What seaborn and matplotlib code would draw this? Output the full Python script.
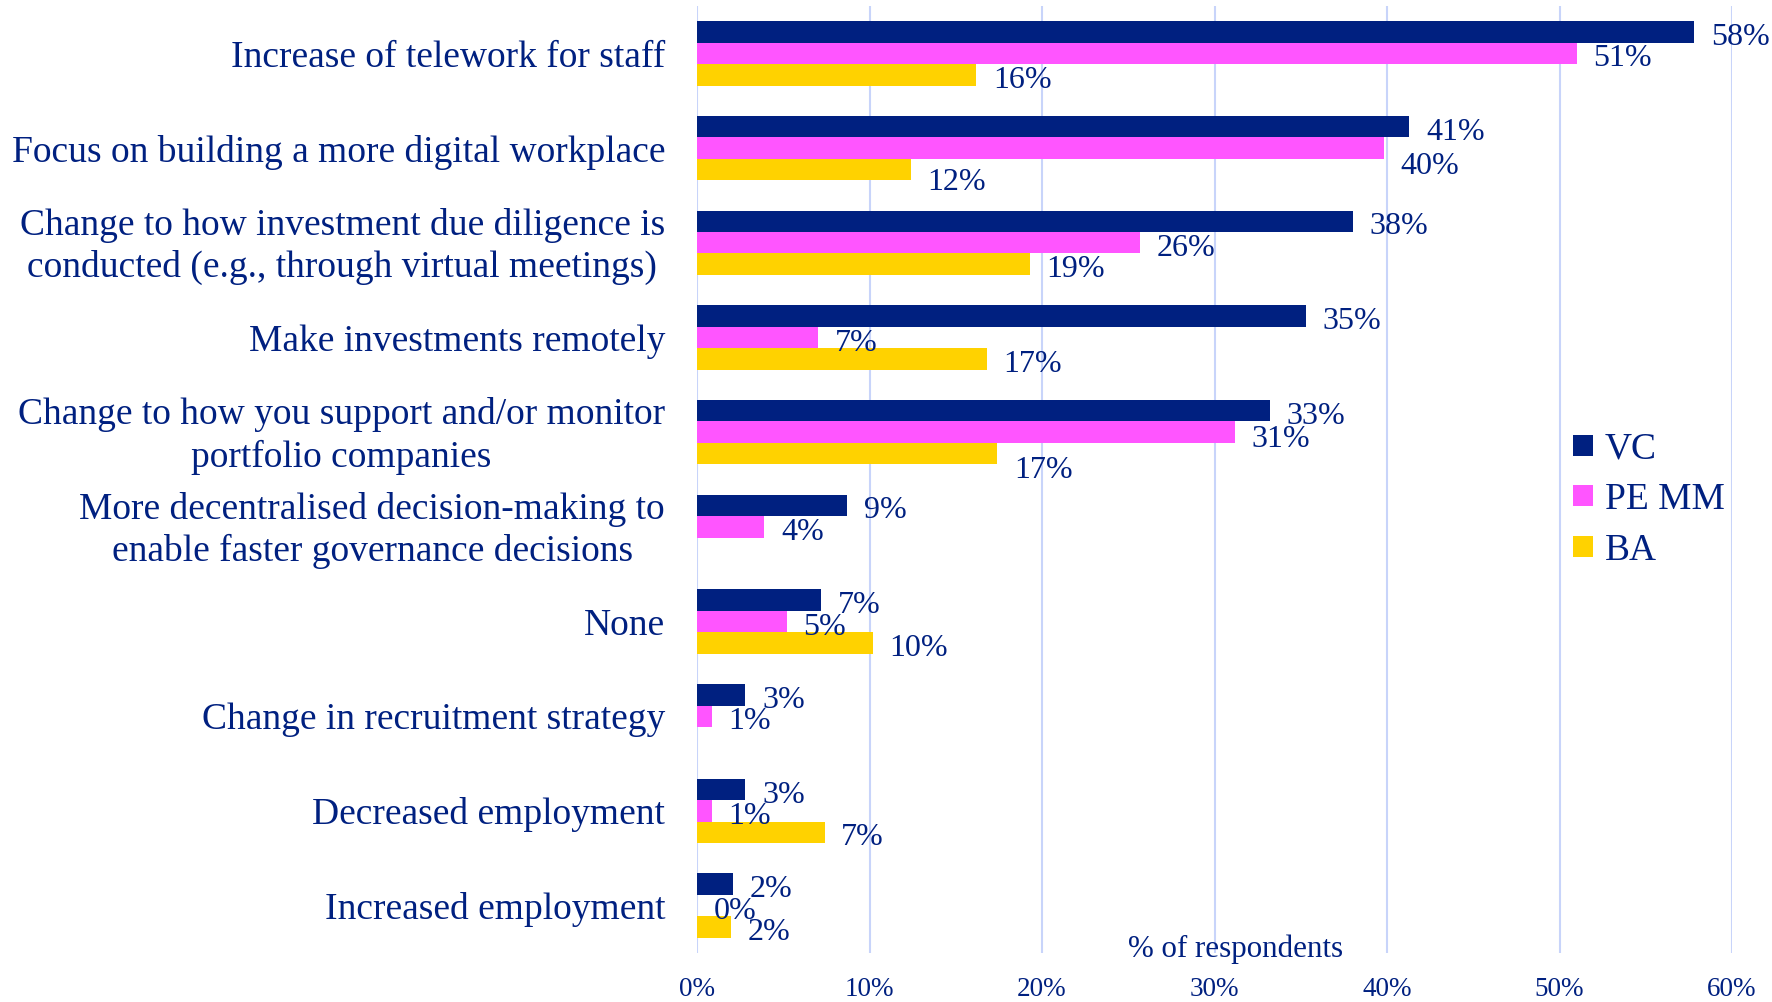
import numpy as np
import pandas as pd
import matplotlib
matplotlib.use("Agg")
import matplotlib.pyplot as plt
import matplotlib.transforms as mtransforms
import seaborn as sns
from matplotlib.patches import Patch

categories = [
    "Increase of telework for staff",
    "Focus on building a more digital workplace",
    "Change to how investment due diligence is\nconducted (e.g., through virtual meetings)",
    "Make investments remotely",
    "Change to how you support and/or monitor\nportfolio companies",
    "More decentralised decision-making to\nenable faster governance decisions",
    "None",
    "Change in recruitment strategy",
    "Decreased employment",
    "Increased employment",
]
series = ["VC", "PE MM", "BA"]
vc = [0.578, 0.413, 0.380, 0.353, 0.332, 0.087, 0.072, 0.028, 0.028, 0.021]
pe_mm = [0.510, 0.398, 0.257, 0.070, 0.312, 0.039, 0.052, 0.0085, 0.0085, 0.0]
ba = [0.162, 0.124, 0.193, 0.168, 0.174, np.nan, 0.102, np.nan, 0.074, 0.0196]
xticks = [0.0, 0.1, 0.2, 0.3, 0.4, 0.5, 0.6]
xtick_labels = ["0%", "10%", "20%", "30%", "40%", "50%", "60%"]
x_title = "% of respondents"

# extra downward nudges (points) for data labels that the original chart moved apart
label_nudge = {(1, "PE MM"): 9, (1, "BA"): 5, (4, "PE MM"): 1.5, (4, "BA"): 8}

NAVY = "#002080"
colors = {"VC": "#002080", "PE MM": "#FF55FF", "BA": "#FFD200"}
GRID = "#C8D4FA"

rows = []
for s, vals in zip(series, [vc, pe_mm, ba]):
    for c, v in zip(categories, vals):
        rows.append({"category": c, "series": s, "value": v})
df = pd.DataFrame(rows).dropna()

sns.set_theme(style="white")
plt.rcParams["font.family"] = ["Liberation Serif", "DejaVu Serif"]

W, H = 1772, 1002
fig = plt.figure(figsize=(W / 100, H / 100), dpi=100)
ax = fig.add_axes([697 / W, 1 - 953 / H, (1732 - 697) / W, (953 - 6) / H])

sns.barplot(data=df, y="category", x="value", hue="series", order=categories,
            hue_order=series, palette=colors, orient="h", width=0.68, gap=0,
            saturation=1, linewidth=0, legend=False, ax=ax, errorbar=None)

ax.set_xlim(0, 0.6)
ax.set_ylim(9.5, -0.5)
ax.set_xticks(xticks)
ax.set_xticklabels(xtick_labels)
ax.xaxis.grid(True, color=GRID, linewidth=1.5)
ax.yaxis.grid(False)
ax.set_axisbelow(True)
for sp in ax.spines.values():
    sp.set_visible(False)
ax.set_xlabel("")
ax.set_ylabel("")
ax.tick_params(axis="x", length=0, pad=17, labelsize=19.5, labelcolor=NAVY)
ax.tick_params(axis="y", length=0, pad=23, labelsize=27, labelcolor=NAVY)
shift_up = mtransforms.ScaledTranslation(0, 3 / 72, fig.dpi_scale_trans)
for t in ax.get_yticklabels():
    t.set_multialignment("center")
    t.set_linespacing(1.28)
    if "\n" in t.get_text():
        t.set_transform(t.get_transform() + shift_up)

for s, cont in zip(series, ax.containers):
    labels = [f"{round(b.get_width() * 100):.0f}%" for b in cont]
    anns = ax.bar_label(cont, labels=labels, padding=12, fontsize=23, color=NAVY)
    for b, a in zip(cont, anns):
        cat_idx = int(round(b.get_y() + b.get_height() / 2))
        x0, y0 = a.xyann
        a.xyann = (x0, y0 - 4 - label_nudge.get((cat_idx, s), 0))

handles = [Patch(facecolor=colors[s], edgecolor="none", label=s) for s in series]
fig.legend(handles=handles, loc="upper left",
           bbox_to_anchor=(1573 / W, 1 - 432 / H), frameon=False,
           fontsize=27, labelcolor=NAVY, handlelength=0.53, handleheight=0.48,
           handletextpad=0.32, labelspacing=0.43, borderpad=0, borderaxespad=0)

fig.text(1236 / W, 1 - 949 / H, x_title, ha="center", va="center",
         fontsize=22.3, color=NAVY)

fig.savefig("out.png", dpi=100)
